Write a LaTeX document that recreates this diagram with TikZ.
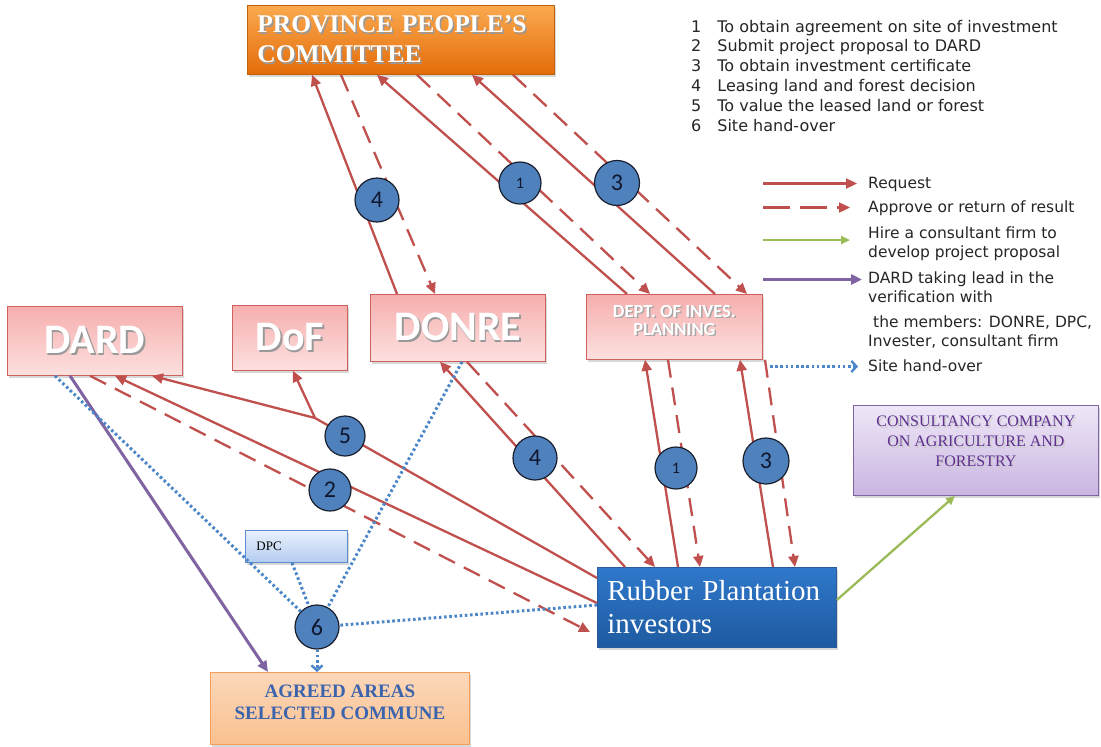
\documentclass[tikz,border=0pt]{standalone}
\usepackage{fontspec}
\setmainfont{Liberation Serif}
\newfontfamily\carl{Carlito}
\newfontfamily\dvs{DejaVu Sans}
\usetikzlibrary{arrows.meta,shadows}

\definecolor{redc}{HTML}{C0504D}
\definecolor{bluec}{HTML}{4A86C8}
\definecolor{greenc}{HTML}{9BBB59}
\definecolor{purplec}{HTML}{8064A2}
\definecolor{pinktop}{HTML}{F5AFAE}
\definecolor{pinkbot}{HTML}{FCE0DF}
\definecolor{pinkedge}{HTML}{D0605E}
\definecolor{orangetop}{HTML}{FAA94E}
\definecolor{orangebot}{HTML}{E46C0A}
\definecolor{orangeedge}{HTML}{C0600A}
\definecolor{rubbertop}{HTML}{2F78CB}
\definecolor{rubberbot}{HTML}{1E5AA0}
\definecolor{rubberedge}{HTML}{2A5C9A}
\definecolor{constop}{HTML}{EEE7F7}
\definecolor{consbot}{HTML}{C9B5E1}
\definecolor{consedge}{HTML}{8064A2}
\definecolor{constext}{HTML}{5E2F8F}
\definecolor{dpctop}{HTML}{E8F0FC}
\definecolor{dpcbot}{HTML}{B4CCF0}
\definecolor{dpcedge}{HTML}{5B8BD0}
\definecolor{agtop}{HTML}{FCD8BA}
\definecolor{agbot}{HTML}{FAC08F}
\definecolor{agedge}{HTML}{F59D56}
\definecolor{agtext}{HTML}{3B64AD}
\definecolor{circfill}{HTML}{4F81BD}
\definecolor{circedge}{HTML}{1A1F2E}
\definecolor{circtext}{HTML}{101830}
\definecolor{legtextc}{HTML}{262626}

% lettering with a small drop shadow behind it
\newcommand\shadowtxt[2][black!40]{\leavevmode\rlap{\hspace{1.5pt}\raisebox{-1.5pt}{\textcolor{#1}{#2}}}#2}

\begin{document}
\begin{tikzpicture}[x=1pt,y=-1pt,
  box/.style={anchor=north west, inner sep=0pt, line width=0.8pt,
    drop shadow={shadow xshift=2pt,shadow yshift=-2.5pt,opacity=0.3}},
  pinkbox/.style={box, draw=pinkedge, top color=pinktop, bottom color=pinkbot,
    text=white, font=\carl\bfseries\fontsize{42}{42}\selectfont},
  reqline/.style={draw=redc, line width=2.3pt, -{Triangle[length=11pt,width=10pt]}},
  retline/.style={reqline, dash pattern=on 18pt off 10pt},
  hireline/.style={draw=greenc, line width=2.3pt, -{Triangle[length=9pt,width=8pt]}},
  leadline/.style={draw=purplec, line width=3pt, -{Triangle[length=11pt,width=10pt]}},
  siteplain/.style={draw=bluec, line width=3pt, dash pattern=on 2.6pt off 2.6pt},
  siteline/.style={siteplain, -{Straight Barb[length=5pt,width=11pt,line width=2.4pt]}},
  numc/.style={circle, draw=circedge, line width=1.2pt, fill=circfill, inner sep=0pt,
    minimum size=44pt, text=circtext, font=\carl\fontsize{24}{24}\selectfont},
  smallnum/.style={font=\carl\fontsize{16}{16}\selectfont},
  legtext/.style={anchor=base west, inner sep=0pt, text=legtextc,
    font=\dvs\fontsize{15.5}{19}\selectfont}
]
\useasboundingbox (0,0) rectangle (1101,747);
\fill[white] (0,0) rectangle (1101,747);

% ---------- boxes ----------
\node[box, draw=orangeedge, top color=orangetop, bottom color=orangebot,
  minimum width=307pt, minimum height=69pt, text width=287pt, inner xsep=10pt,
  align=left, text=white, font=\bfseries\fontsize{25.5}{30}\selectfont]
  (ppc) at (247,5) {\shadowtxt{PROVINCE PEOPLE’S}\\\shadowtxt{COMMITTEE}};

\node[pinkbox, minimum width=175pt, minimum height=69pt] (dard) at (7,306) {\shadowtxt{DARD}};
\node[pinkbox, minimum width=115pt, minimum height=65pt] (dof) at (232,305) {\shadowtxt{DoF}};
\node[pinkbox, minimum width=175pt, minimum height=67pt] (donre) at (370,294) {\shadowtxt{DONRE}};
\node[pinkbox, minimum width=176pt, minimum height=65pt] (dip) at (586,294) {};
\node[text=white, align=center, font=\carl\bfseries\fontsize{18.5}{18}\selectfont]
  (diptxt) at ([yshift=6pt]dip.center) {\shadowtxt[black!35]{DEPT. OF INVES.}\\\shadowtxt[black!35]{PLANNING}};

\node[box, draw=consedge, top color=constop, bottom color=consbot,
  minimum width=245pt, minimum height=90pt] (cons) at (853,405) {};
\node[text=constext, align=center, font=\fontsize{16}{20}\selectfont]
  (constxt) at ([yshift=8pt]cons.center)
  {\shadowtxt[black!20]{CONSULTANCY COMPANY}\\\shadowtxt[black!20]{ON AGRICULTURE AND}\\\shadowtxt[black!20]{FORESTRY}};

\node[box, draw=rubberedge, top color=rubbertop, bottom color=rubberbot,
  minimum width=239pt, minimum height=80pt, text width=219pt, inner xsep=10pt,
  align=left, text=white, font=\fontsize{29}{33}\selectfont]
  (rubber) at (597,567) {Rubber Plantation\\investors};

\node[box, draw=dpcedge, top color=dpctop, bottom color=dpcbot,
  minimum width=95pt, minimum height=32pt, text width=80pt, inner xsep=11pt,
  align=left, font=\fontsize{13}{15}\selectfont]
  (dpc) at (245,530) {DPC};

\node[box, draw=agedge, top color=agtop, bottom color=agbot,
  minimum width=259pt, minimum height=72pt] (agreed) at (210,672) {};
\node[text=agtext, align=center, font=\bfseries\fontsize{19}{22}\selectfont]
  (agtxt) at ([yshift=6pt]agreed.center) {AGREED AREAS\\SELECTED COMMUNE};

% ---------- requests and results with the province committee ----------
\draw[reqline] ([xshift=27pt]donre.north west) -- ([xshift=65pt]ppc.south west);
\draw[retline] ([xshift=94pt]ppc.south west) -- ([xshift=65pt]donre.north west);
\draw[reqline] ([xshift=41pt]dip.north west) -- ([xshift=130pt]ppc.south west);
\draw[retline] ([xshift=170pt]ppc.south west) -- ([xshift=64pt]dip.north west);
\draw[reqline] ([xshift=129pt]dip.north west) -- ([xshift=225pt]ppc.south west);
\draw[retline] ([xshift=266pt]ppc.south west) -- ([xshift=161pt]dip.north west);

% ---------- requests and results with the investors ----------
\coordinate (split5) at (315,418);
\draw[reqline] ([yshift=-11pt]rubber.north west) -- (split5) -- ([xshift=145pt]dard.south west);
\draw[reqline] (split5) -- ([xshift=61pt]dof.south west);
\draw[reqline] ([yshift=-36pt]rubber.north west) -- ([xshift=108pt]dard.south west);
\draw[retline] ([xshift=83pt]dard.south west) -- ([xshift=-7pt,yshift=-65pt]rubber.north west);
\draw[reqline] ([xshift=28pt]rubber.north west) -- ([xshift=70pt]donre.south west);
\draw[retline] ([xshift=97pt]donre.south west) -- ([xshift=58pt]rubber.north west);
\draw[reqline] ([xshift=81pt]rubber.north west) -- ([xshift=59pt]dip.south west);
\draw[retline] ([xshift=82pt]dip.south west) -- ([xshift=103pt]rubber.north west);
\draw[reqline] ([xshift=176pt]rubber.north west) -- ([xshift=154pt]dip.south west);
\draw[retline] ([xshift=179pt]dip.south west) -- ([xshift=198pt]rubber.north west);

% ---------- verification lead and consultant ----------
\draw[leadline] ([xshift=63pt]dard.south west) -- ([xshift=58pt]agreed.north west);
\draw[hireline] ([yshift=-33pt]rubber.north east) -- ([xshift=102pt]cons.south west);

% ---------- step markers ----------
\node[numc] (c4a) at (377,200) {4};
\node[numc, smallnum, minimum size=42pt] (c1a) at (520,183) {1};
\node[numc, minimum size=45pt] (c3a) at (617,183) {3};
\node[numc, minimum size=40pt] (c5) at (345,436) {5};
\node[numc, minimum size=42pt] (c2) at (330,490) {2};
\node[numc] (c4b) at (535,458) {4};
\node[numc, smallnum, minimum size=42pt] (c1b) at (676,468) {1};
\node[numc, minimum size=46pt] (c3b) at (766,461) {3};
\node[numc] (c6) at (317,627) {6};

% ---------- site hand-over ----------
\draw[siteplain] ([xshift=48pt]dard.south west) -- (c6);
\draw[siteplain] ([xshift=92pt]donre.south west) -- (c6);
\draw[siteplain] ([xshift=47pt]dpc.south west) -- (c6);
\draw[siteplain] ([yshift=-38pt]rubber.north west) -- (c6);
\draw[siteline] (c6) -- ([xshift=107pt]agreed.north west);

% ---------- numbered steps ----------
\node[anchor=north west, inner sep=0pt, text=legtextc, font=\dvs\fontsize{16}{19.8}\selectfont]
  (steps) at (691,18) {\begin{tabular}{@{}l@{\hspace{16pt}}l@{}}
  1 & To obtain agreement on site of investment\\
  2 & Submit project proposal to DARD\\
  3 & To obtain investment certificate\\
  4 & Leasing land and forest decision\\
  5 & To value the leased land or forest\\
  6 & Site hand-over
  \end{tabular}};

% ---------- legend ----------
\node[legtext] (lreq) at (868,188) {Request};
\node[legtext] (lret) at (868,212) {Approve or return of result};
\node[legtext] (lhire) at (868,238) {Hire a consultant firm to};
\node[legtext] (lhire2) at (868,257) {develop project proposal};
\node[legtext] (llead) at (868,283) {DARD taking lead in the};
\node[legtext] (llead2) at (868,302) {verification with};
\node[legtext] (llead3) at (873,327) {the members: DONRE, DPC,};
\node[legtext] (llead4) at (868,346) {Invester, consultant firm};
\node[legtext] (lsite) at (868,371) {Site hand-over};

\draw[reqline] ([xshift=-105pt,yshift=4.5pt]lreq.base west) -- ([xshift=-11pt,yshift=4.5pt]lreq.base west);
\draw[retline, dash pattern=on 27pt off 10pt] ([xshift=-105pt,yshift=4.5pt]lret.base west) -- ([xshift=-18pt,yshift=4.5pt]lret.base west);
\draw[hireline] ([xshift=-105pt,yshift=-2pt]lhire.base west) -- ([xshift=-18pt,yshift=-2pt]lhire.base west);
\draw[leadline] ([xshift=-105pt,yshift=3.5pt]llead.base west) -- ([xshift=-6pt,yshift=3.5pt]llead.base west);
\draw[siteline] ([xshift=-98pt,yshift=4.5pt]lsite.base west) -- ([xshift=-10pt,yshift=4.5pt]lsite.base west);
\end{tikzpicture}
\end{document}
